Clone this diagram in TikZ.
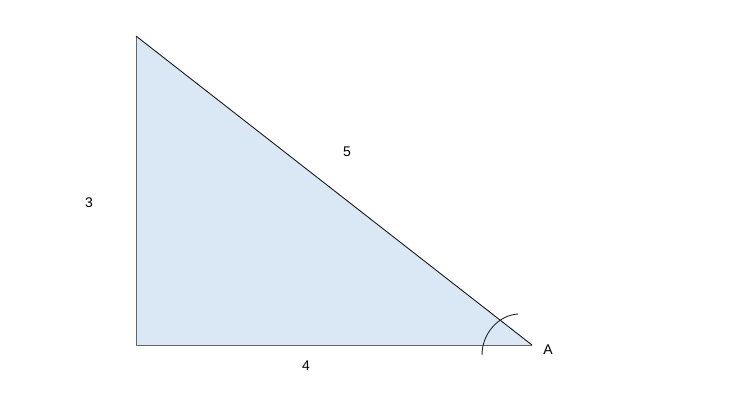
\documentclass[tikz,border=0pt]{standalone}
\usepackage{fontspec}
\setmainfont{Liberation Sans}
\begin{document}
\begin{tikzpicture}[x=1pt,y=-1pt,
  lbl/.style={inner sep=0pt,font=\fontsize{14}{16}\selectfont},
  side/.style={line width=1pt,draw=black!60},
  hyp/.style={line width=0.9pt,draw=black!90}]
\useasboundingbox (0,0) rectangle (736,408);
\coordinate (T) at (136,36);
\coordinate (L) at (136,345);
\coordinate (R) at (532,345);
\fill[fill={rgb,255:red,218;green,232;blue,245}] (T) -- (L) -- (R) -- cycle;
\draw[side] (T) -- (L) -- (R);
\draw[hyp] (T) -- (R);
\coordinate (a1) at (482,355);
\coordinate (a2) at (518,314);
\draw[line width=0.9pt,black!85] (a1) .. controls (482,333) and (499,315) .. (a2);
\node[lbl] (n3) at (89,203) {3};
\node[lbl] (n5) at (347,152) {5};
\node[lbl] (n4) at (306,366) {4};
\node[lbl] (nA) at (548,350) {A};
\end{tikzpicture}
\end{document}
